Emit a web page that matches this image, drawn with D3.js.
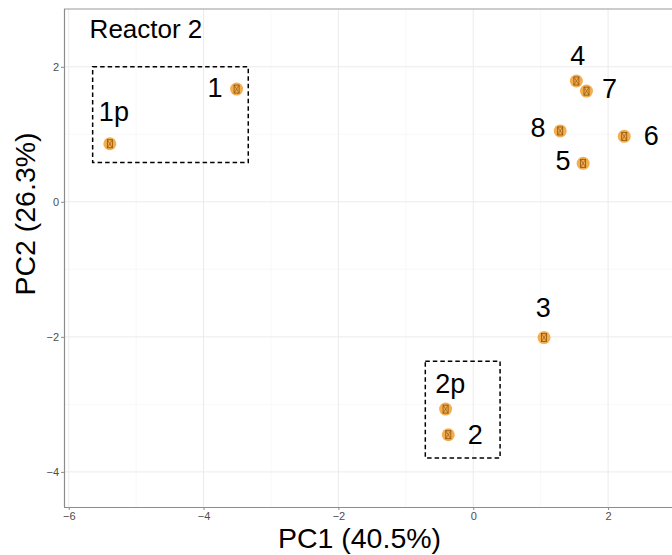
<!DOCTYPE html>
<html>
<head>
<meta charset="utf-8">
<script src="https://cdn.jsdelivr.net/npm/d3@7/dist/d3.min.js"></script>
<style>
  body { margin: 0; background: #fff; }
  svg { display: block; font-family: "Liberation Sans", Arial, sans-serif; }
</style>
</head>
<body>
<svg id="chart" width="672" height="555"></svg>
<script>
// --- Data ---
const samples = ['1p', '1', '4', '7', '8', '6', '5', '3', '2p', '2'];
const pc1 = [-5.39, -3.51, 1.53, 1.68, 1.29, 2.24, 1.63, 1.05, -0.41, -0.37];
const pc2 = [0.86, 1.67, 1.79, 1.64, 1.05, 0.97, 0.57, -2.01, -3.07, -3.45];
// repelled label positions (data units)
const labelX = [-5.33, -3.83, 1.55, 2.02, 0.96, 2.64, 1.33, 1.04, -0.34, 0.03];
const labelY = [1.34, 1.70, 2.17, 1.68, 1.11, 0.99, 0.62, -1.56, -2.69, -3.44];
// dashed grouping boxes [x0, x1, y0, y1]
const boxes = [[-5.645, -3.337, 0.582, 2.0], [-0.711, 0.398, -3.795, -2.362]];
const xTicks = [-6, -4, -2, 0, 2];
const yTicks = [-4, -2, 0, 2];
const xMinor = [-5, -3, -1, 1, 3];
const yMinor = [-3, -1, 1];
const title = 'Reactor 2';
const xTitle = 'PC1 (40.5%)';
const yTitle = 'PC2 (26.3%)';

const width = 672, height = 555;
const panel = { left: 64, right: 720, top: 9, bottom: 507 };
const svg = d3.select('#chart');

const x = d3.scaleLinear().domain([-6.07, 3.66]).range([panel.left, panel.right]);
const y = d3.scaleLinear().domain([-4.52, 2.856]).range([panel.bottom, panel.top]);

// --- Grid ---
const grid = svg.append('g');
grid.selectAll('.xminor').data(xMinor).join('line')
    .attr('x1', d => x(d)).attr('x2', d => x(d))
    .attr('y1', panel.top).attr('y2', panel.bottom)
    .attr('stroke', '#f4f4f4').attr('stroke-width', 0.6);
grid.selectAll('.yminor').data(yMinor).join('line')
    .attr('y1', d => y(d)).attr('y2', d => y(d))
    .attr('x1', panel.left).attr('x2', panel.right)
    .attr('stroke', '#f4f4f4').attr('stroke-width', 0.6);
grid.selectAll('.xmajor').data(xTicks).join('line')
    .attr('x1', d => x(d)).attr('x2', d => x(d))
    .attr('y1', panel.top).attr('y2', panel.bottom)
    .attr('stroke', '#ebebeb').attr('stroke-width', 1);
grid.selectAll('.ymajor').data(yTicks).join('line')
    .attr('y1', d => y(d)).attr('y2', d => y(d))
    .attr('x1', panel.left).attr('x2', panel.right)
    .attr('stroke', '#ebebeb').attr('stroke-width', 1);

// --- Panel border (top) ---
svg.append('line')
    .attr('x1', panel.left).attr('x2', panel.right)
    .attr('y1', panel.top).attr('y2', panel.top)
    .attr('stroke', '#9a9a9a').attr('stroke-width', 1.2);

// --- Axes ---
const fmt = d => d < 0 ? '\u2212' + Math.abs(d) : String(d);
const xAxis = svg.append('g')
    .attr('transform', `translate(0,${panel.bottom})`)
    .call(d3.axisBottom(x).tickValues(xTicks).tickSize(3).tickPadding(2).tickFormat(fmt));
const yAxis = svg.append('g')
    .attr('transform', `translate(${panel.left},0)`)
    .call(d3.axisLeft(y).tickValues(yTicks).tickSize(3).tickPadding(2).tickFormat(fmt));
[xAxis, yAxis].forEach(ax => {
    ax.select('.domain').attr('stroke', '#8c8c8c').attr('stroke-width', 1.2);
    ax.selectAll('.tick line').attr('stroke', '#8c8c8c');
    ax.selectAll('.tick text').attr('fill', '#4d4d4d')
        .style('font-size', '11px').style('font-family', '"Liberation Sans", Arial, sans-serif');
});
// plain domain lines without end caps
xAxis.select('.domain').attr('d', `M${panel.left},0.5H${panel.right}`);
yAxis.select('.domain').attr('d', `M0.5,${panel.top}V${panel.bottom}`);

// --- Dashed boxes ---
svg.selectAll('.box').data(boxes).join('rect')
    .attr('x', d => x(d[0])).attr('y', d => y(d[3]))
    .attr('width', d => x(d[1]) - x(d[0]))
    .attr('height', d => y(d[2]) - y(d[3]))
    .attr('fill', 'none').attr('stroke', '#000')
    .attr('stroke-width', 1.5).attr('stroke-dasharray', '4.5,3');

// --- Points ---
const pts = samples.map((s, i) => ({ s, px: pc1[i], py: pc2[i], lx: labelX[i], ly: labelY[i] }));
const pg = svg.selectAll('.pt').data(pts).join('g')
    .attr('transform', d => `translate(${x(d.px)},${y(d.py)})`);
pg.append('circle').attr('r', 6.5).attr('fill', '#f0a030').attr('fill-opacity', 0.85);
pg.append('rect').attr('x', -2.5).attr('y', -4).attr('width', 5).attr('height', 8)
    .attr('fill', 'none').attr('stroke', '#8a500c').attr('stroke-width', 0.8);
pg.append('path').attr('d', 'M-2.5,-4L2.5,4M2.5,-4L-2.5,4')
    .attr('stroke', '#8a500c').attr('stroke-width', 0.6);

// --- Labels ---
svg.selectAll('.lbl').data(pts).join('text')
    .attr('x', d => x(d.lx)).attr('y', d => y(d.ly))
    .attr('dy', '0.36em')
    .attr('text-anchor', 'middle')
    .style('font-size', '27px').attr('fill', '#000')
    .text(d => d.s);

// --- Title annotation ---
svg.append('text')
    .attr('x', x(-5.69)).attr('y', y(2.43))
    .style('font-size', '26px').attr('fill', '#000')
    .text(title);

// --- Axis titles ---
svg.append('text')
    .attr('x', 359.5).attr('y', 547.5)
    .attr('text-anchor', 'middle')
    .style('font-size', '28.5px').attr('fill', '#000')
    .text(xTitle);
svg.append('text')
    .attr('transform', 'translate(35,214) rotate(-90)')
    .attr('text-anchor', 'middle')
    .style('font-size', '28.5px').attr('fill', '#000')
    .text(yTitle);
</script>
</body>
</html>
